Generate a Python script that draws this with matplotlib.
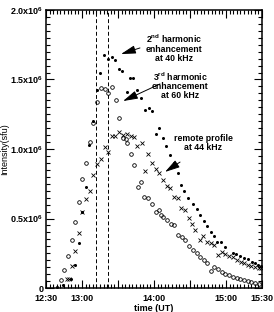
import matplotlib
matplotlib.use("Agg")
import matplotlib.pyplot as plt
from matplotlib.ticker import MultipleLocator

plt.rcParams["font.family"] = ["Liberation Sans", "DejaVu Sans"]
plt.rcParams["font.weight"] = "bold"
plt.rcParams["mathtext.default"] = "regular"

# time in minutes after 12:30 UT, intensity in units of 1e6 sfu
filled_t = [9, 14, 21, 24.2, 27.3, 30.2, 33.3, 36.1, 39.4, 42.3, 45.3, 48.5, 51.8, 54.8,
            57.8, 60.7, 63.6, 67.3, 69.8, 72.8, 76.1, 79.2, 82.5, 85.6, 88.3, 91.4, 94.4,
            97.3, 100.0, 103.6, 106.4, 109.8, 112.5, 115.3, 118.3, 122.3, 125.6, 128.3,
            131.7, 134.2, 137.3, 140.4, 142.8, 146.1, 149.2, 155.6, 158.3, 161.7, 165.0,
            168.1, 171.4, 174.2, 176.9, 179.2]
filled_v = [0.01, 0.02, 0.063, 0.163, 0.322, 0.549, 0.729, 1.027, 1.204, 1.424, 1.545,
            1.673, 1.644, 1.660, 1.642, 1.573, 1.563, 1.408, 1.513, 1.513, 1.424, 1.365,
            1.281, 1.293, 1.273, 1.105, 1.149, 1.081, 1.024, 0.957, 0.901, 0.829, 0.741,
            0.700, 0.647, 0.604, 0.566, 0.525, 0.484, 0.446, 0.405, 0.374, 0.333, 0.331,
            0.297, 0.254, 0.245, 0.230, 0.218, 0.206, 0.189, 0.178, 0.168, 0.160]

open_t = [12.3, 15.3, 18.3, 21.4, 24.2, 27.3, 30.3, 33.5, 36.7, 39.4, 42.5, 45.8, 49.2,
          51.9, 55.0, 58.3, 61.1, 63.9, 66.3, 67.5, 70.6, 73.3, 76.4, 79.2, 81.9, 84.8,
          88.1, 91.7, 93.9, 95.5, 97.8, 100.6, 103.9, 106.9, 110.3, 113.1, 115.8, 119.2,
          122.3, 125.6, 128.3, 131.7, 134.4, 137.3, 140.0, 143.3, 146.4, 149.2, 152.5,
          155.6, 158.9, 161.7, 165.0, 168.3, 171.1, 174.4, 177.8]
open_v = [0.058, 0.129, 0.227, 0.345, 0.477, 0.619, 0.782, 0.901, 1.053, 1.189, 1.340,
          1.441, 1.429, 1.405, 1.446, 1.353, 1.221, 1.081, 1.069, 1.040, 0.962, 0.885,
          0.724, 0.765, 0.657, 0.645, 0.604, 0.549, 0.558, 0.525, 0.513, 0.489, 0.460,
          0.453, 0.381, 0.365, 0.345, 0.302, 0.273, 0.254, 0.221, 0.201, 0.182, 0.124,
          0.149, 0.135, 0.117, 0.099, 0.094, 0.081, 0.074, 0.067, 0.058, 0.050, 0.041,
          0.034, 0.029]

cross_t = [17.5, 19.5, 21.4, 24.4, 27.5, 30.2, 33.6, 36.7, 39.4, 42.5, 45.8, 48.8, 51.7,
           54.8, 57.8, 61.0, 63.9, 67.3, 70.6, 73.6, 76.1, 79.8, 82.5, 85.3, 88.6, 91.7,
           94.4, 97.3, 100.6, 103.3, 106.7, 110.0, 112.9, 115.8, 118.8, 121.7, 124.4,
           128.3, 131.1, 134.4, 137.3, 140.3, 143.6, 146.4, 149.2, 152.5, 155.6, 158.9,
           162.3, 165.0, 168.3, 171.1, 173.9, 177.3, 179.4]
cross_v = [0.063, 0.063, 0.155, 0.264, 0.399, 0.550, 0.642, 0.700, 0.815, 0.890, 0.928,
           1.014, 0.978, 1.090, 1.090, 1.124, 1.101, 1.106, 1.094, 1.084, 1.022, 1.041,
           0.844, 0.964, 0.901, 0.854, 0.829, 0.777, 0.734, 0.717, 0.657, 0.650, 0.573,
           0.561, 0.501, 0.458, 0.417, 0.345, 0.374, 0.333, 0.326, 0.309, 0.237, 0.261,
           0.245, 0.230, 0.221, 0.201, 0.189, 0.178, 0.165, 0.158, 0.149, 0.142, 0.142]

dashed_t = [41.7, 51.4]

x_ticks = [0, 30, 90, 150, 180]
x_labels = ["12:30", "13:00", "14:00", "15:00", "15:30"]
y_ticks = [0, 0.5, 1.0, 1.5, 2.0]
y_labels = ["0", "0.5x10$^6$", "1.0x10$^6$", "1.5x10$^6$", "2.0x10$^6$"]

notes = [
    ("2$^{nd}$ harmonic\nenhancement\nat 40 kHz", (106.7, 1.727), (78.3, 1.727), (62.5, 1.683)),
    ("3$^{rd}$ harmonic\nenhancement\nat 60 kHz", (111.7, 1.460), (95.0, 1.468), (64.2, 1.345)),
    ("remote profile\nat 44 kHz", (131.0, 1.045), (111.7, 0.906), (99.2, 0.835)),
]

fig = plt.figure(figsize=(2.74, 3.12), dpi=100)
ax = fig.add_axes([46 / 274, 24 / 312, 216 / 274, 278 / 312])

ax.plot(filled_t, filled_v, "o", ms=2.2, color="black", mew=0)
ax.plot(open_t, open_v, "o", ms=2.6, mfc="none", mec="black", mew=0.6)
ax.plot(cross_t, cross_v, "x", ms=2.6, color="black", mew=0.6)

for t in dashed_t:
    ax.axvline(t, color="black", lw=0.7, ls=(0, (4, 2.5)))

for txt, pos, tail, head in notes:
    ax.text(pos[0], pos[1], txt, ha="center", va="center", fontsize=6.3,
            fontweight="bold", linespacing=0.95)
    ax.annotate("", xy=head, xytext=tail,
                arrowprops=dict(arrowstyle="-|>,head_length=0.9,head_width=0.25",
                                color="black", lw=0.7, shrinkA=0, shrinkB=0))

ax.set_xlim(0, 180)
ax.set_ylim(0, 2.0)
ax.xaxis.set_major_locator(MultipleLocator(30))
ax.xaxis.set_minor_locator(MultipleLocator(3))
ax.yaxis.set_major_locator(MultipleLocator(0.5))
ax.yaxis.set_minor_locator(MultipleLocator(0.05))
ax.tick_params(which="both", direction="in", top=True, right=True, width=0.8,
               labelsize=6.5)
ax.tick_params(axis="x", pad=4)
ax.tick_params(axis="y", pad=2)
ax.tick_params(which="major", length=6)
ax.tick_params(which="minor", length=3)

lbl = {t: l for t, l in zip(x_ticks, x_labels)}
ax.xaxis.set_major_formatter(plt.FuncFormatter(lambda v, p: lbl.get(int(round(v)), "")))
ax.set_yticks(y_ticks)
ax.set_yticklabels(y_labels)
for t in ax.get_xticklabels() + ax.get_yticklabels():
    t.set_fontweight("bold")

for s in ax.spines.values():
    s.set_linewidth(1.1)

ax.set_xlabel("time (UT)", fontsize=6.5, fontweight="bold", labelpad=1)
ax.set_ylabel("Intensity(sfu)", fontsize=6.5, fontweight="normal", labelpad=1)

fig.savefig("out.png", dpi=100)
